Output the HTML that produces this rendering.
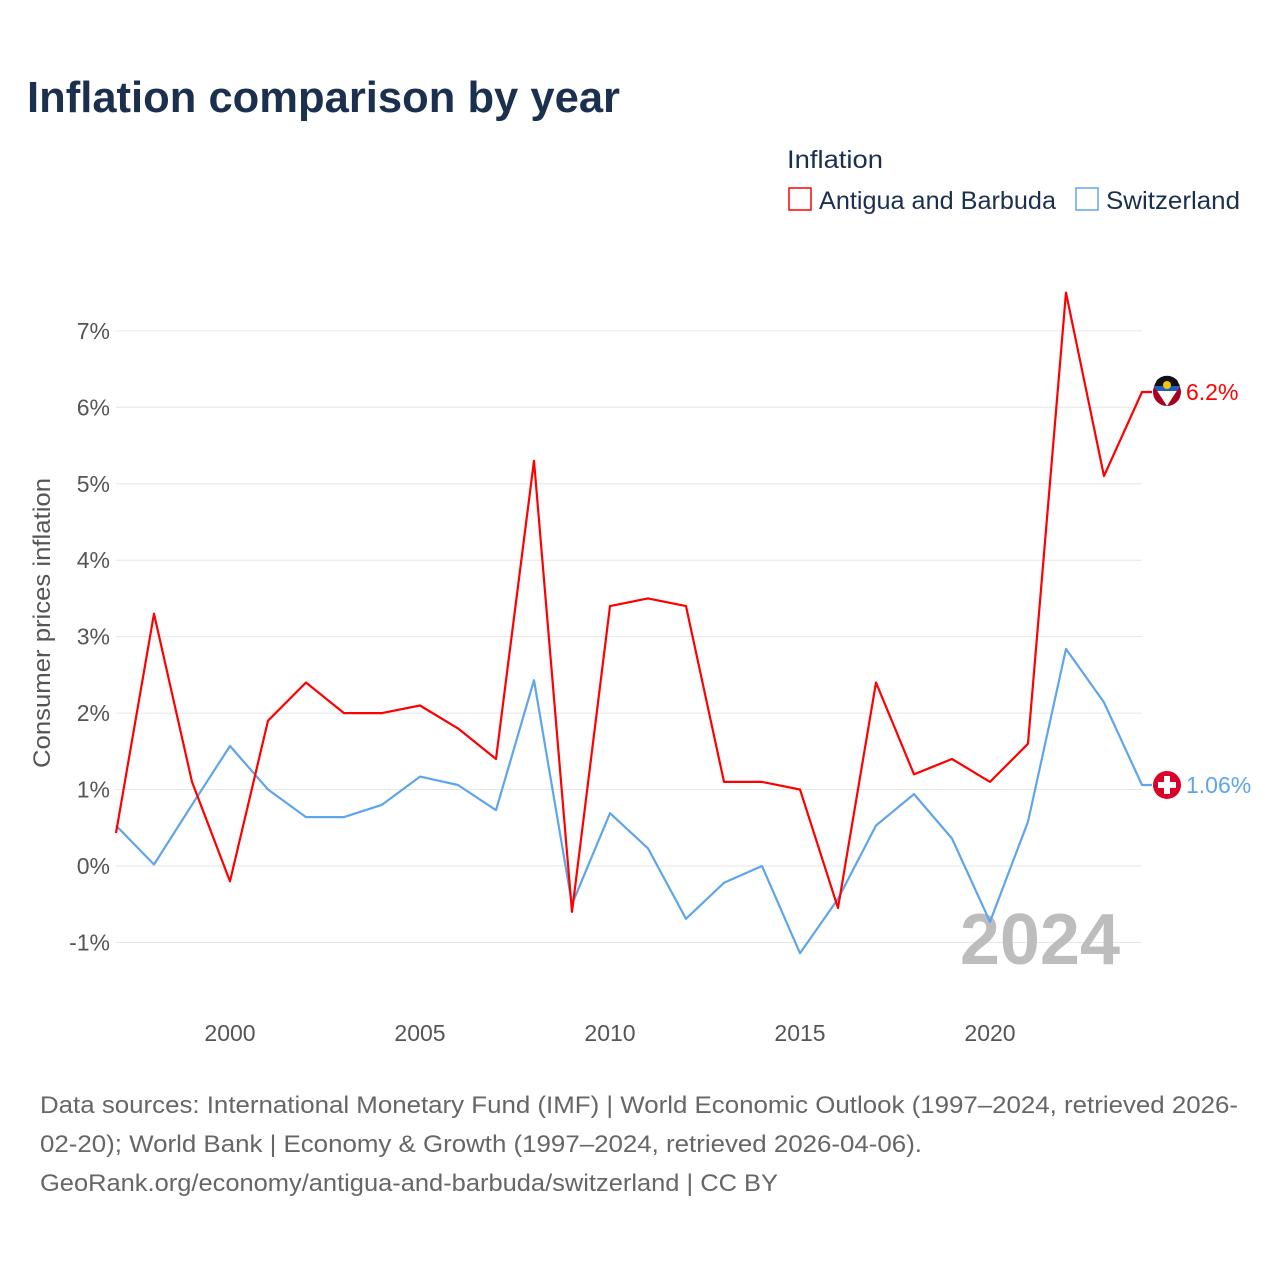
<!DOCTYPE html>
<html><head><meta charset="utf-8">
<style>
body{margin:0;background:#fff;font-family:"Liberation Sans",sans-serif;}
#wrap{position:relative;width:1280px;height:1280px;overflow:hidden;}
</style></head>
<body>
<div id="wrap">
<svg id="chart" width="1280" height="1280" style="position:absolute;left:0;top:0">
  <text x="27" y="112" font-size="44" font-weight="bold" fill="#1b2f4e" textLength="593" lengthAdjust="spacingAndGlyphs">Inflation comparison by year</text>
  <text x="787" y="168" font-size="25" fill="#1b2f4e" textLength="96" lengthAdjust="spacingAndGlyphs">Inflation</text>
  <g>
    <rect x="789" y="188" width="22" height="22" fill="none" stroke="#ff0000" stroke-width="1.5"/>
    <text x="819" y="209" font-size="25" fill="#1b2f4e" textLength="237" lengthAdjust="spacingAndGlyphs">Antigua and Barbuda</text>
  </g>
  <g>
    <rect x="1076" y="188" width="22" height="22" fill="none" stroke="#5ea5ea" stroke-width="1.5"/>
    <text x="1106" y="209" font-size="25" fill="#1b2f4e" textLength="134" lengthAdjust="spacingAndGlyphs">Switzerland</text>
  </g>
  <g id="grid"></g>
  <g id="yticks"></g>
  <g id="xticks"></g>
  <text transform="translate(50,623) rotate(-90)" text-anchor="middle" font-size="24" fill="#555" textLength="290" lengthAdjust="spacingAndGlyphs">Consumer prices inflation</text>
  <text x="1120" y="964" text-anchor="end" font-size="72" font-weight="bold" fill="#bdbdbd">2024</text>
  <g id="series"></g>
  <text x="40" y="1113" font-size="24" fill="#666" textLength="1198" lengthAdjust="spacingAndGlyphs">Data sources: International Monetary Fund (IMF) | World Economic Outlook (1997–2024, retrieved 2026-</text>
  <text x="40" y="1152" font-size="24" fill="#666" textLength="882" lengthAdjust="spacingAndGlyphs">02-20); World Bank | Economy &amp; Growth (1997–2024, retrieved 2026-04-06).</text>
  <text x="40" y="1191" font-size="24" fill="#666" textLength="738" lengthAdjust="spacingAndGlyphs">GeoRank.org/economy/antigua-and-barbuda/switzerland | CC BY</text>
</svg>
</div>
<script>
const years=[1997,1998,1999,2000,2001,2002,2003,2004,2005,2006,2007,2008,2009,2010,2011,2012,2013,2014,2015,2016,2017,2018,2019,2020,2021,2022,2023,2024];
const antigua=[0.43,3.3,1.1,-0.2,1.9,2.4,2.0,2.0,2.1,1.8,1.4,5.3,-0.6,3.4,3.5,3.4,1.1,1.1,1.0,-0.55,2.4,1.2,1.4,1.1,1.6,7.5,5.1,6.2];
const swiss=[0.53,0.02,0.8,1.57,1.0,0.64,0.64,0.8,1.17,1.06,0.73,2.43,-0.5,0.69,0.23,-0.69,-0.22,0.0,-1.14,-0.43,0.53,0.94,0.36,-0.73,0.58,2.84,2.14,1.06];
const yTicks=[-1,0,1,2,3,4,5,6,7];
const xTicks=[2000,2005,2010,2015,2020];
const NS="http://www.w3.org/2000/svg";
function X(yr){return 116+(yr-1997)*(1142-116)/27;}
function Y(v){return 866-v*76.45;}
function mk(tag,attrs,parent,txt){const e=document.createElementNS(NS,tag);for(const k in attrs)e.setAttribute(k,attrs[k]);if(txt!==undefined)e.textContent=txt;parent.appendChild(e);return e;}
const grid=document.getElementById('grid'),yt=document.getElementById('yticks'),xt=document.getElementById('xticks'),ser=document.getElementById('series');
yTicks.forEach(v=>{
  const l=mk('line',{x1:116,x2:1142,y1:Y(v),y2:Y(v),stroke:'#e6e6e6','stroke-width':1},grid);
  
  
  const t=mk('text',{x:110,y:Y(v)+8,'text-anchor':'end','font-size':23,fill:'#555'},yt,v+'%');
  
  
});
xTicks.forEach(v=>{
  const t=mk('text',{x:X(v),y:1041,'text-anchor':'middle','font-size':23,fill:'#555'},xt,String(v));
  
  
});
function line(vals,color,name){
  const n=vals.length;
  let d=vals.map((v,i)=>(i?'L':'M')+X(years[i]).toFixed(1)+','+Y(v).toFixed(1)).join(' ');
  d+=' L'+(X(years[n-1])+10).toFixed(1)+','+Y(vals[n-1]).toFixed(1);
  const p=mk('path',{d:d,fill:'none',stroke:color,'stroke-width':2.2,'stroke-linejoin':'round'},ser);
  
  
}
line(swiss,'#5ea5ea','switzerland-line');
line(antigua,'#ff0000','antigua-line');
const ay=Y(antigua[antigua.length-1]), sy=Y(swiss[swiss.length-1]), cx=1167;
const ga=mk('g',{},ser);


mk('circle',{cx:cx,cy:ay,r:14,fill:'#a8001e'},ga);
mk('path',{d:`M${cx-13},${ay-6} L${cx+13},${ay-6} L${cx},${ay+14} Z`,fill:'#fff'},ga);
mk('path',{d:`M${cx-13},${ay-6} L${cx+13},${ay-6} L${cx+10},${ay-1} L${cx-10},${ay-1} Z`,fill:'#1f5fc4'},ga);
mk('path',{d:`M${cx-10},${ay-12} A14 14 0 0 1 ${cx+10},${ay-12} L${cx+13},${ay-6} L${cx-13},${ay-6} Z`,fill:'#111'},ga);
mk('circle',{cx:cx,cy:ay-7,r:4,fill:'#f8c300'},ga);
const ta=mk('text',{x:1186,y:ay+8,'font-size':23,fill:'#ff0000'},ser,antigua[antigua.length-1]+'%');


const gs=mk('g',{},ser);


mk('circle',{cx:cx,cy:sy,r:14,fill:'#d9002a'},gs);
mk('rect',{x:cx-3,y:sy-9,width:6,height:18,fill:'#fff'},gs);
mk('rect',{x:cx-9,y:sy-3,width:18,height:6,fill:'#fff'},gs);
const ts=mk('text',{x:1186,y:sy+8,'font-size':23,fill:'#5ea5ea'},ser,swiss[swiss.length-1]+'%');


</script>
</body></html>
